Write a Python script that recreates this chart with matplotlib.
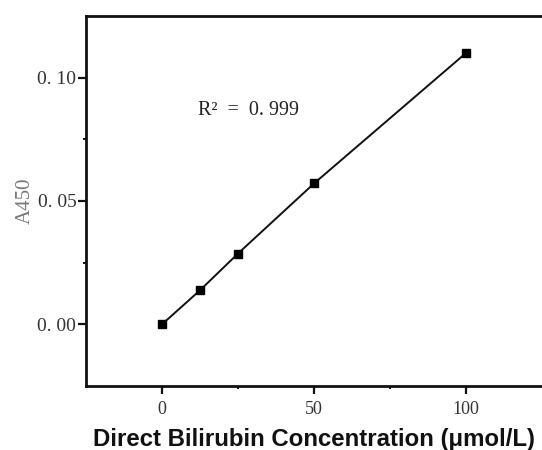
import matplotlib
matplotlib.use("Agg")
import matplotlib.pyplot as plt
from matplotlib.ticker import FixedLocator, FuncFormatter

concentration = [0, 12.5, 25, 50, 100]
absorbance = [0.0, 0.0138, 0.0287, 0.0571, 0.110]
x_ticks = [0, 50, 100]
y_ticks = [0.00, 0.05, 0.10]
x_minor = [25, 75]
y_minor = [0.025, 0.075]
r2_text = "R²  =  0. 999"

fig = plt.figure(figsize=(5.42, 4.5), dpi=100)
ax = fig.add_axes([86/542, 1-386/450, 1-86/542, (386-16)/450])

ax.plot(concentration, absorbance, color="#111111", lw=1.4, marker="s",
        markersize=6, markerfacecolor="black", markeredgecolor="black")

ax.set_xlim(-25, 125)
ax.set_ylim(-0.025, 0.125)
ax.set_xticks(x_ticks)
ax.set_yticks(y_ticks)
ax.xaxis.set_minor_locator(FixedLocator(x_minor))
ax.yaxis.set_minor_locator(FixedLocator(y_minor))
ax.yaxis.set_major_formatter(FuncFormatter(lambda v, p: f"{v:.2f}".replace(".", ". ")))

for s in ["left", "bottom", "top"]:
    ax.spines[s].set_linewidth(2.0)
    ax.spines[s].set_color("#111111")
ax.spines["right"].set_visible(False)

ax.tick_params(axis="both", which="major", direction="out", length=5.5, width=1.6,
               colors="#111111")
ax.tick_params(axis="x", which="major", labelsize=13, pad=5.5)
ax.tick_params(axis="y", which="major", labelsize=14, pad=1.5)
ax.tick_params(axis="both", which="minor", direction="out", length=2.5, width=1.4,
               colors="#111111")
for lab in ax.get_xticklabels() + ax.get_yticklabels():
    lab.set_fontfamily("Liberation Serif")
    lab.set_color("#333333")

ax.set_xlabel("Direct Bilirubin Concentration (μmol/L)", fontsize=17.3,
              fontweight="bold", family="Liberation Sans", color="#111111", labelpad=7)
ax.set_ylabel("A450", fontsize=15, family="Liberation Serif", color="#777777", labelpad=2)

ax.text(11.8, 0.0866, r2_text, fontsize=14.5, family="Liberation Serif",
        color="#222222", va="center")

fig.savefig("out.png", dpi=100)
